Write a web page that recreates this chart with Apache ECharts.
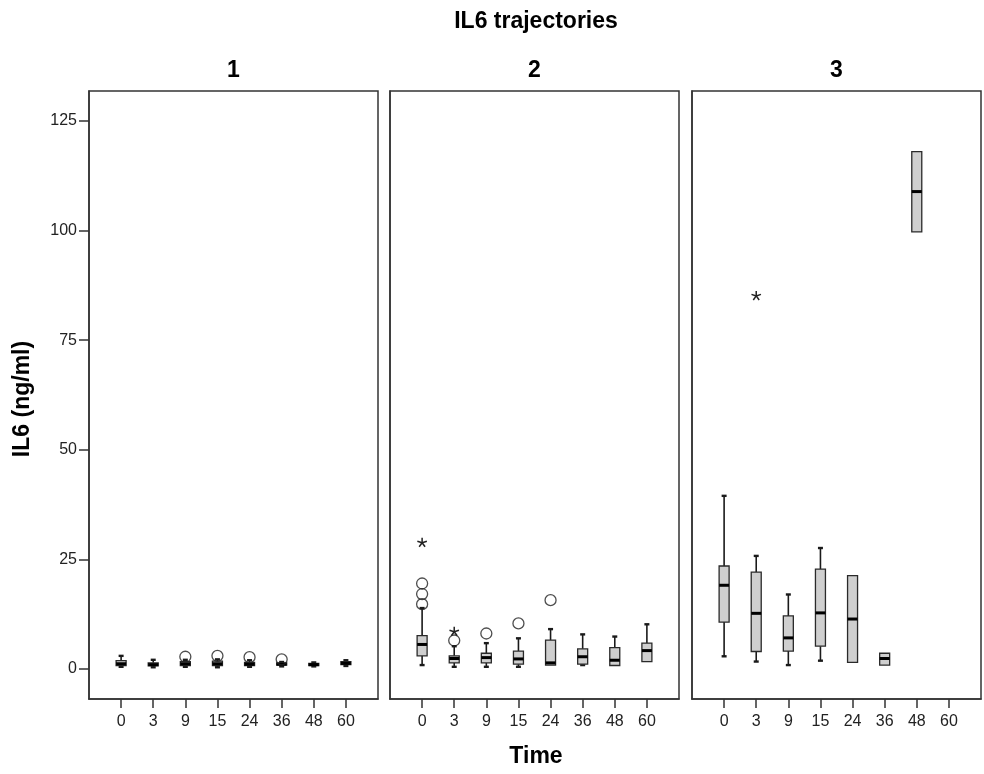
<!DOCTYPE html>
<html>
<head>
<meta charset="utf-8">
<script src="https://cdn.jsdelivr.net/npm/echarts@6/dist/echarts.min.js"></script>
<style>
html,body{margin:0;padding:0;background:#fff;}
#chart{width:984px;height:774px;}
</style>
</head>
<body>
<div id="chart"></div>
<script>
// ---- data ----
const chartTitle = 'IL6 trajectories';
const panelTitles = ['1', '2', '3'];
const xAxisTitle = 'Time';
const yAxisTitle = 'IL6 (ng/ml)';
const timeLabels = ['0', '3', '9', '15', '24', '36', '48', '60'];
const yTicks = [0, 25, 50, 75, 100, 125];
// box items: [min, Q1, median, Q3, max]
const group1Boxes = [
  [0.5, 0.8, 1.2, 1.9, 3.0],
  [0.4, 0.7, 1.0, 1.4, 2.1],
  [0.5, 0.8, 1.2, 1.7, 2.1],
  [0.4, 0.8, 1.2, 1.8, 2.2],
  [0.5, 0.8, 1.1, 1.5, 2.0],
  [0.6, 0.9, 1.1, 1.4, 1.6],
  [0.6, 0.8, 1.0, 1.3, 1.5],
  [0.7, 1.0, 1.3, 1.7, 2.0]
];
const group2Boxes = [
  [0.9, 3.0, 5.6, 7.6, 13.9],
  [0.5, 1.4, 2.4, 3.0, 5.2],
  [0.5, 1.4, 2.6, 3.6, 5.9],
  [0.5, 1.1, 2.3, 4.1, 7.0],
  [0.8, 0.9, 1.4, 6.6, 9.1],
  [0.9, 1.1, 2.8, 4.6, 7.9],
  [0.7, 0.8, 2.0, 4.9, 7.4],
  [1.6, 1.7, 4.2, 5.9, 10.2]
];
const group3Boxes = [
  [2.9, 10.7, 19.1, 23.5, 39.5],
  [1.7, 4.0, 12.7, 22.1, 25.8],
  [0.9, 4.1, 7.1, 12.1, 17.0],
  [1.9, 5.2, 12.8, 22.8, 27.6],
  [1.5, 1.5, 11.4, 21.3, 21.3],
  [0.9, 0.9, 2.4, 3.6, 3.6],
  [99.7, 99.7, 108.9, 118.0, 118.0],
  null
];
// outliers: [time index, value]
const group1Circles = [[2, 2.8], [3, 3.0], [4, 2.7], [5, 2.2]];
const group1Stars = [];
const group2Circles = [[0, 19.5], [0, 17.1], [0, 14.8], [1, 6.5], [2, 8.1], [3, 10.4], [4, 15.7]];
const group2Stars = [[0, 28.8], [1, 8.5]];
const group3Circles = [];
const group3Stars = [[1, 85.1]];

// ---- layout ----
const FONT = '"Liberation Sans", Arial, sans-serif';
const gridLefts = [89, 390, 692];
const gridWidth = 289;
const gridTop = 91;
const gridHeight = 608;
const yMin = -6.84, yMax = 131.84;
const xCats = [''].concat(timeLabels, ['']);

const boxesAll = [group1Boxes, group2Boxes, group3Boxes];
const circlesAll = [group1Circles, group2Circles, group3Circles];
const starsAll = [group1Stars, group2Stars, group3Stars];

const grids = [], xAxes = [], yAxes = [], series = [];

function renderBox(params, api) {
  const x = api.value(0);
  const pMin = api.coord([x, api.value(1)]);
  const pQ1 = api.coord([x, api.value(2)]);
  const pMed = api.coord([x, api.value(3)]);
  const pQ3 = api.coord([x, api.value(4)]);
  const pMax = api.coord([x, api.value(5)]);
  const cx = pMed[0];
  const hw = 5, cap = 2.5;
  const children = [];
  const wStyle = {stroke: '#1a1a1a', lineWidth: 1.6};
  const cStyle = {stroke: '#1a1a1a', lineWidth: 2.4};
  if (pMax[1] < pQ3[1] - 0.5) {
    children.push({type: 'line', shape: {x1: cx, y1: pQ3[1], x2: cx, y2: pMax[1]}, style: wStyle});
    children.push({type: 'line', shape: {x1: cx - cap, y1: pMax[1], x2: cx + cap, y2: pMax[1]}, style: cStyle});
  }
  if (pMin[1] > pQ1[1] + 0.5) {
    children.push({type: 'line', shape: {x1: cx, y1: pQ1[1], x2: cx, y2: pMin[1]}, style: wStyle});
    children.push({type: 'line', shape: {x1: cx - cap, y1: pMin[1], x2: cx + cap, y2: pMin[1]}, style: cStyle});
  }
  children.push({
    type: 'rect',
    shape: {x: cx - hw, y: pQ3[1], width: hw * 2, height: Math.max(pQ1[1] - pQ3[1], 1)},
    style: {fill: '#cfcfcf', stroke: '#2a2a2a', lineWidth: 1.3}
  });
  children.push({type: 'line', shape: {x1: cx - hw, y1: pMed[1], x2: cx + hw, y2: pMed[1]}, style: {stroke: '#000', lineWidth: 3}});
  return {type: 'group', children: children};
}

function renderStar(params, api) {
  const p = api.coord([api.value(0), api.value(1)]);
  const r = 5;
  const children = [];
  for (let k = 0; k < 5; k++) {
    const a = -Math.PI / 2 + k * 2 * Math.PI / 5;
    children.push({type: 'line', shape: {x1: p[0], y1: p[1], x2: p[0] + r * Math.cos(a), y2: p[1] + r * Math.sin(a)}, style: {stroke: '#222', lineWidth: 1.5}});
  }
  return {type: 'group', children: children};
}

for (let g = 0; g < 3; g++) {
  grids.push({left: gridLefts[g], top: gridTop, width: gridWidth, height: gridHeight,
    show: true, borderColor: '#333', borderWidth: 1.5, backgroundColor: 'transparent', containLabel: false});
  xAxes.push({
    type: 'category', gridIndex: g, data: xCats, boundaryGap: false,
    axisLine: {show: true, onZero: false, lineStyle: {color: '#333', width: 1.5}},
    axisTick: {show: true, length: 9, interval: function (idx, val) { return val !== ''; }, lineStyle: {color: '#333', width: 1.5}},
    axisLabel: {interval: 0, margin: 15, fontSize: 16, color: '#222', fontFamily: FONT},
    splitLine: {show: false}
  });
  yAxes.push({
    type: 'value', gridIndex: g, min: yMin, max: yMax,
    axisLine: {show: true, lineStyle: {color: '#333', width: 1.5}},
    axisTick: {show: g === 0, length: 10, customValues: yTicks, lineStyle: {color: '#333', width: 1.5}},
    axisLabel: {show: g === 0, customValues: yTicks, margin: 12, fontSize: 16, color: '#222', fontFamily: FONT},
    splitLine: {show: false}
  });
  const boxData = [];
  boxesAll[g].forEach(function (b, i) { if (b) boxData.push([i + 1].concat(b)); });
  series.push({type: 'custom', xAxisIndex: g, yAxisIndex: g, renderItem: renderBox, data: boxData,
    encode: {x: 0, y: [1, 2, 3, 4, 5]}, clip: false, silent: true});
  series.push({type: 'scatter', xAxisIndex: g, yAxisIndex: g, symbol: 'circle', symbolSize: 11,
    itemStyle: {color: 'rgba(255,255,255,0)', borderColor: '#222', borderWidth: 1.3},
    data: circlesAll[g].map(function (c) { return [c[0] + 1, c[1]]; }), silent: true, z: 3});
  series.push({type: 'custom', xAxisIndex: g, yAxisIndex: g, renderItem: renderStar,
    data: starsAll[g].map(function (c) { return [c[0] + 1, c[1]]; }), encode: {x: 0, y: 1}, silent: true, z: 3});
}

const textStyleBold = {fontFamily: FONT, fontWeight: 'bold', fill: '#000', textAlign: 'center', textVerticalAlign: 'middle'};
const graphics = [
  {type: 'text', x: 536, y: 22, style: Object.assign({}, textStyleBold, {text: chartTitle, fontSize: 23})},
  {type: 'text', x: 536, y: 757, style: Object.assign({}, textStyleBold, {text: xAxisTitle, fontSize: 23})},
  {type: 'text', x: 23, y: 399, rotation: Math.PI / 2, style: Object.assign({}, textStyleBold, {text: yAxisTitle, fontSize: 23})}
];
for (let g = 0; g < 3; g++) {
  graphics.push({type: 'text', x: gridLefts[g] + gridWidth / 2, y: 71, style: Object.assign({}, textStyleBold, {text: panelTitles[g], fontSize: 23})});
}

const chart = echarts.init(document.getElementById('chart'), null, {renderer: 'canvas'});
chart.setOption({
  backgroundColor: '#fff',
  animation: false,
  grid: grids,
  xAxis: xAxes,
  yAxis: yAxes,
  series: series,
  graphic: graphics
});
</script>
</body>
</html>
